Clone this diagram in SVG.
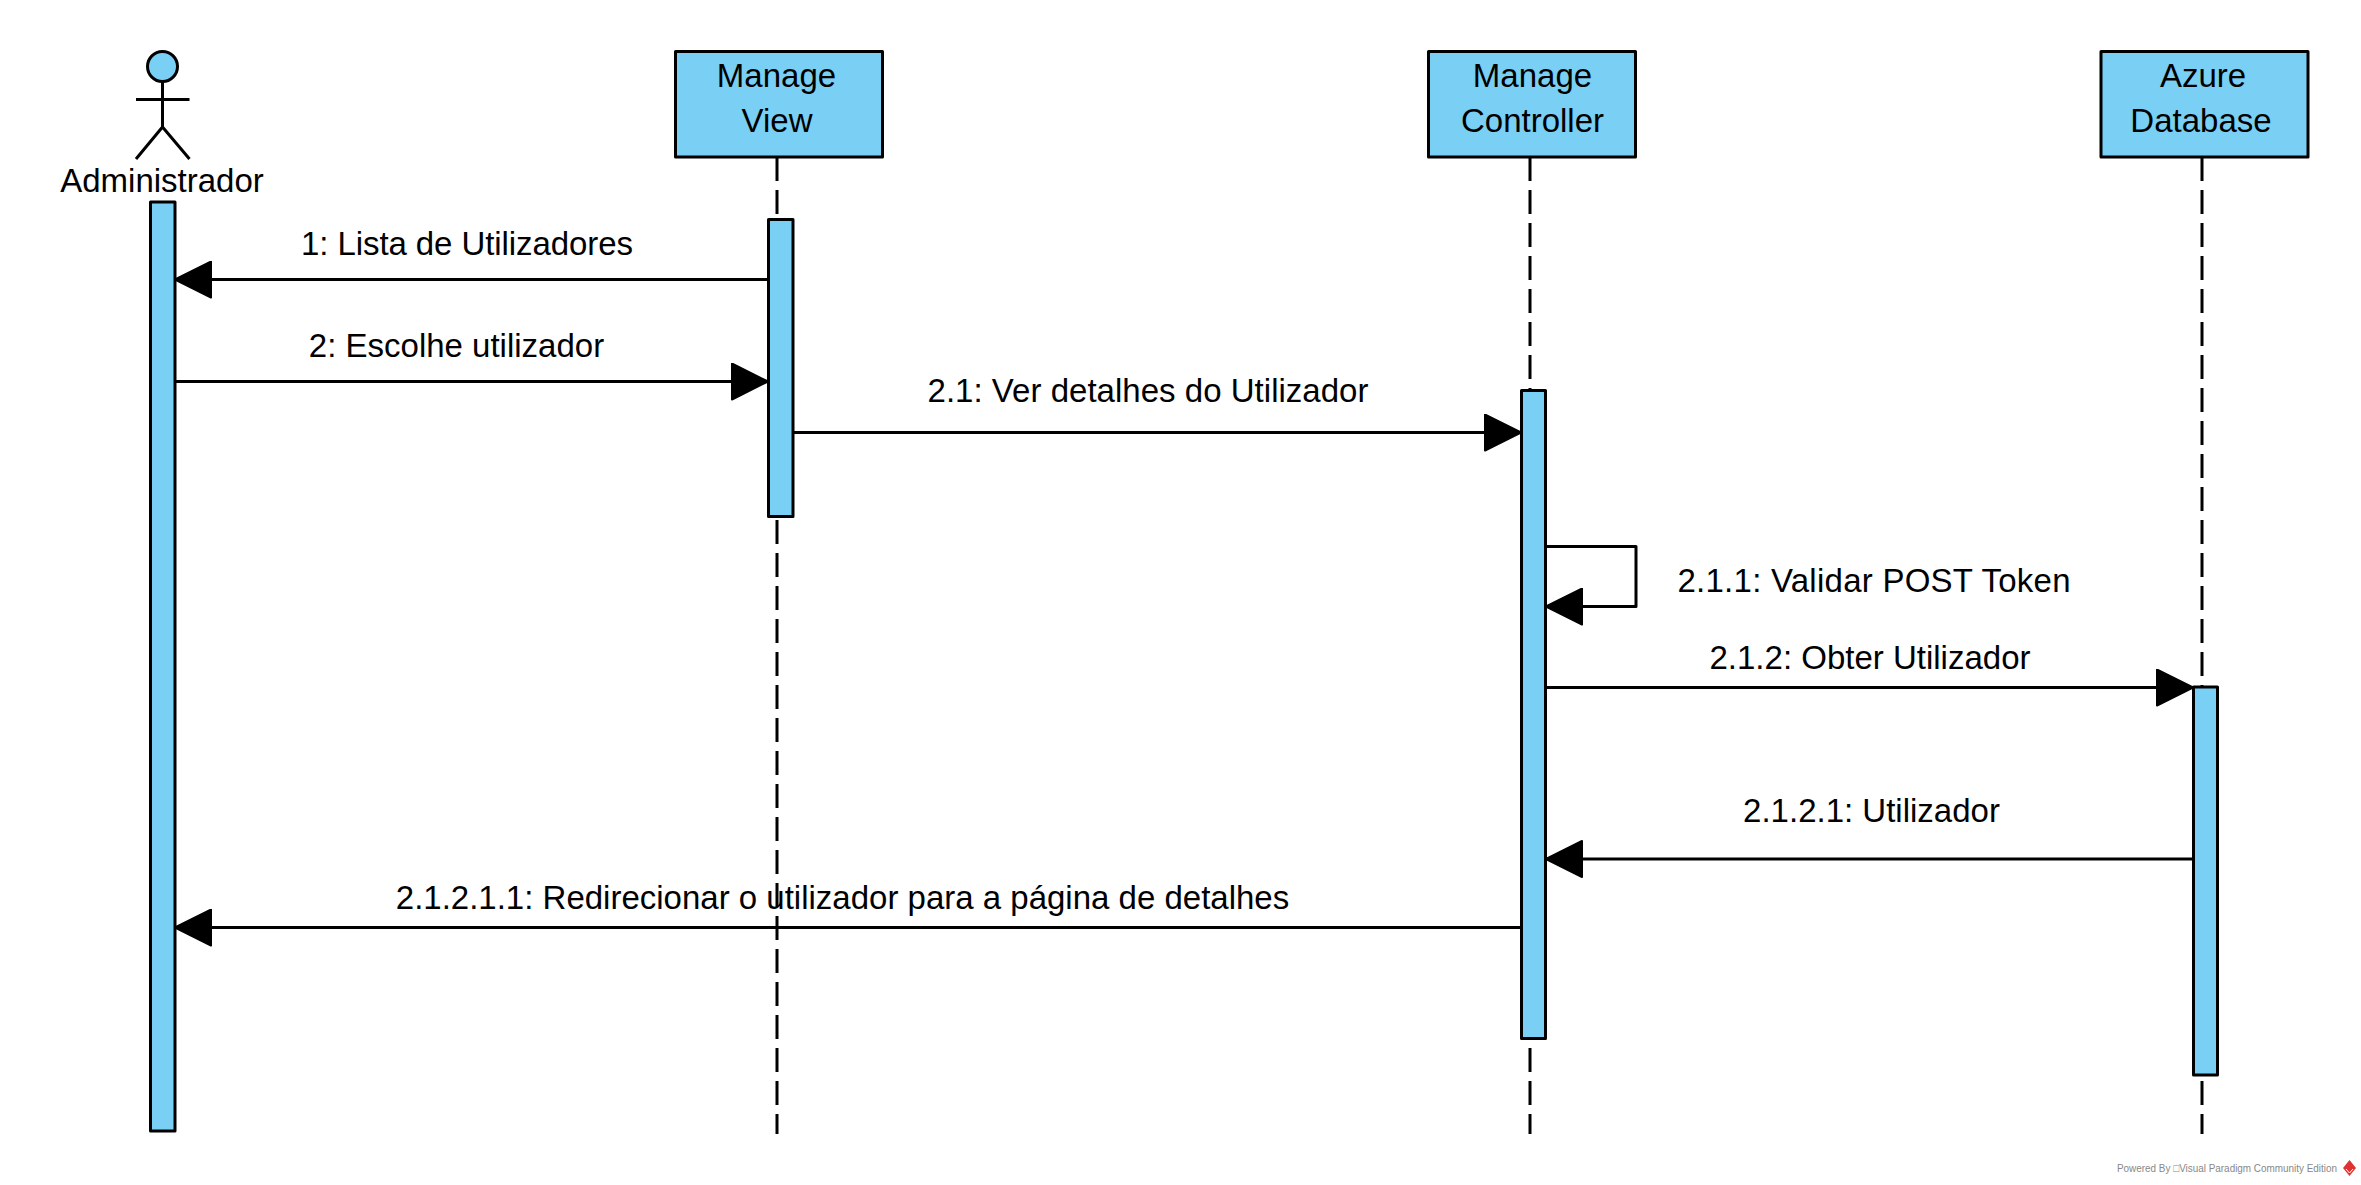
<svg xmlns="http://www.w3.org/2000/svg" width="2361" height="1185" viewBox="0 0 2361 1185">
<style>
text{font-family:"Liberation Sans",Arial,sans-serif;font-size:33px;fill:#000}
.m{text-anchor:middle}
.b{fill:#7acff5;stroke:#000;stroke-width:3;stroke-linejoin:round}
.l{fill:none;stroke:#000;stroke-width:3;stroke-linejoin:round}
.d{stroke:#000;stroke-width:3;stroke-dasharray:24 9;fill:none}
.f{fill:#000;stroke:#000;stroke-width:2;stroke-linejoin:round}
</style>
<defs>
<marker id="a" markerUnits="userSpaceOnUse" markerWidth="38" markerHeight="38" refX="37" refY="19" orient="auto"><path class="f" d="M37 19L1 1V37Z"/></marker>
</defs>
<rect width="2361" height="1185" fill="#fff"/>
<g id="lifelines">
<path class="d" d="M777 157V1134"/>
<path class="d" d="M1530 157V1134"/>
<path class="d" d="M2202 157V1134"/>
</g>
<g id="administrador">
<circle class="b" cx="162.500" cy="66.500" r="15"/>
<path class="l" d="M162.500 81V127M136 99.500H189.500M136 159L162.500 127L189.500 159"/>
<text class="m" x="162" y="192">Administrador</text>
<rect class="b" x="150.500" y="202" width="24.500" height="929"/>
</g>
<g id="manage-view">
<rect class="b" x="675.500" y="51.500" width="207" height="105.500"/>
<text class="m" x="776.500" y="87">Manage</text>
<text class="m" x="777" y="131.500">View</text>
<rect class="b" x="768.500" y="219.500" width="24.500" height="297"/>
</g>
<g id="manage-controller">
<rect class="b" x="1428.500" y="51.500" width="207" height="105.500"/>
<text class="m" x="1532.500" y="87">Manage</text>
<text class="m" x="1532.500" y="131.500">Controller</text>
<rect class="b" x="1521.500" y="390.500" width="24" height="648"/>
</g>
<g id="azure-database">
<rect class="b" x="2101" y="51.500" width="207" height="105.500"/>
<text class="m" x="2203" y="87">Azure</text>
<text class="m" x="2201" y="131.500">Database</text>
<rect class="b" x="2193.500" y="687" width="24" height="388"/>
</g>
<g id="connectors">
<path class="l" marker-end="url(#a)" d="M768 279.500H175"/>
<path class="l" marker-end="url(#a)" d="M175 381.500H768"/>
<path class="l" marker-end="url(#a)" d="M793 432.500H1521"/>
<path class="l" marker-end="url(#a)" d="M1546 546.500H1636V606.500H1546"/>
<path class="l" marker-end="url(#a)" d="M1546 687.500H2193"/>
<path class="l" marker-end="url(#a)" d="M2193 859H1546"/>
<path class="l" marker-end="url(#a)" d="M1521 927.500H175"/>
</g>
<g id="labels">
<text class="m" x="467" y="255" textLength="332">1: Lista de Utilizadores</text>
<text class="m" x="456.500" y="357">2: Escolhe utilizador</text>
<text class="m" x="1148" y="402" textLength="441">2.1: Ver detalhes do Utilizador</text>
<text class="m" x="1874" y="591.500" textLength="393">2.1.1: Validar POST Token</text>
<text class="m" x="1870" y="669">2.1.2: Obter Utilizador</text>
<text class="m" x="1871.500" y="822">2.1.2.1: Utilizador</text>
<text class="m" x="842.500" y="909">2.1.2.1.1: Redirecionar o utilizador para a página de detalhes</text>
</g>
<g id="watermark">
<text x="2117" y="1172" textLength="220" lengthAdjust="spacingAndGlyphs" style="font-size:10.500px;fill:#888">Powered By □Visual Paradigm Community Edition</text>
<path d="M2349.500 1160L2356 1168L2349.500 1176L2343 1168Z" fill="#d33"/>
<path d="M2346 1169L2349.500 1173L2353 1169" fill="none" stroke="#fff" stroke-width="1"/>
</g>
</svg>
